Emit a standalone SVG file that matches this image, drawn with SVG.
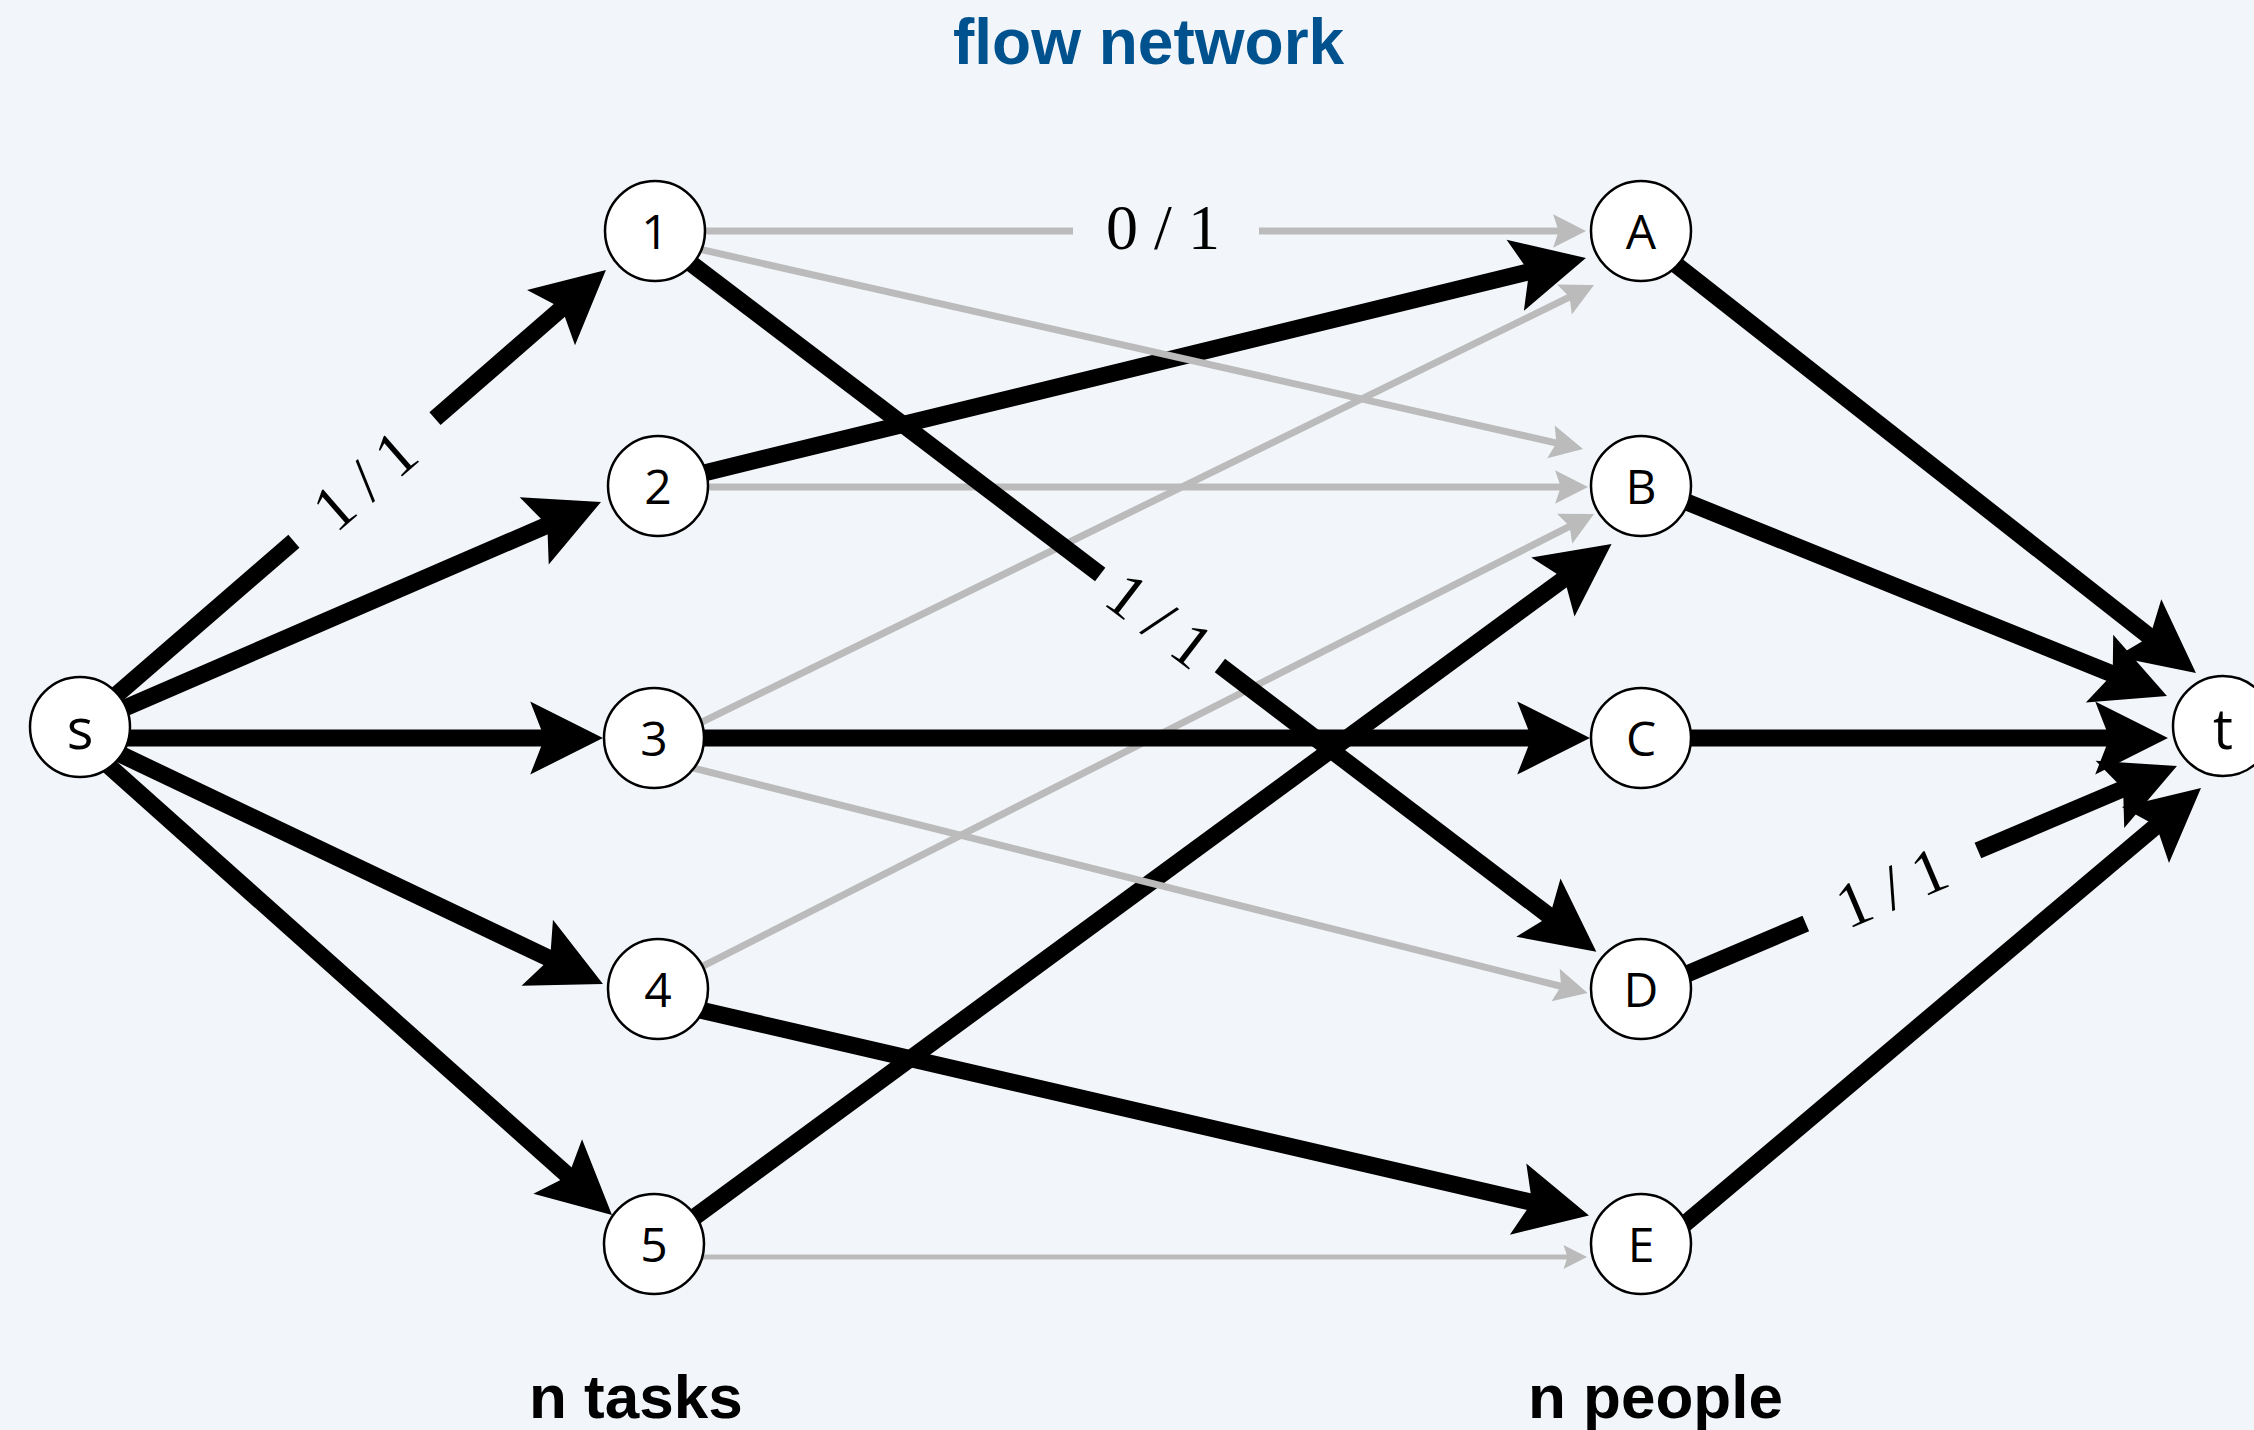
<svg xmlns="http://www.w3.org/2000/svg" width="2254" height="1430" viewBox="0 0 2254 1430">
<defs>
<marker id="ahB" markerUnits="strokeWidth" orient="auto" refX="1.3" refY="0" markerWidth="5" markerHeight="5" overflow="visible"><path d="M0,-2.15 L4.28,0 L0,2.15 L0.84,0 Z" fill="#000"/></marker>
<marker id="ahG" markerUnits="strokeWidth" orient="auto" refX="1.5" refY="0" markerWidth="5" markerHeight="5" overflow="visible"><path d="M0,-2.4 L4.7,0 L0,2.4 L0.8,0 Z" fill="#bbbbbb"/></marker>
<style>
.thick{stroke:#000;stroke-width:17;fill:none}
.thin{stroke:#bbbbbb;stroke-width:7;fill:none}
.hb{marker-end:url(#ahB)}
.hg{marker-end:url(#ahG)}
.node circle{fill:#fff;stroke:#000;stroke-width:2.5}
.lbl{font-family:"Open Sans","Liberation Sans",sans-serif;font-size:48px;text-anchor:middle;fill:#000}
.lbl2{font-family:"Open Sans","Liberation Sans",sans-serif;font-size:56px;text-anchor:middle;fill:#000}
.flow{font-family:"Liberation Serif",serif;font-size:64px;text-anchor:middle;fill:#000}
.cap{font-family:"Liberation Sans",sans-serif;font-weight:bold;font-size:62px;fill:#000}
.title{font-family:"Liberation Sans",sans-serif;font-weight:bold;font-size:64px;fill:#00528f}
</style>
</defs>
<rect width="2254" height="1430" fill="#f2f6fa"/>
<text class="title" x="953" y="64">flow network</text>
<g id="connectors">
<line class="thick hb" x1="683.7" y1="477.9" x2="1536.7" y2="270"/>
<line class="thick hb" x1="675.8" y1="1230.8" x2="1570.7" y2="574"/>
<line class="thin" x1="680" y1="231" x2="1073" y2="231"/>
<line class="thin hg" x1="1259" y1="231" x2="1563.6" y2="231"/>
<line class="thin hg" x1="686.4" y1="246.2" x2="1561.2" y2="444.1"/>
<line class="thin hg" x1="680" y1="487" x2="1565.6" y2="487"/>
<line class="thin hg" x1="689.5" y1="728.2" x2="1573.9" y2="294.9"/>
<line class="thin hg" x1="682.5" y1="765.3" x2="1565.8" y2="987.5"/>
<line class="thin hg" x1="692.6" y1="971.4" x2="1574" y2="524.1"/>
<line class="thin hg" x1="680" y1="1257" x2="1571" y2="1257" style="stroke-width:5"/>
<line class="thick" x1="99" y1="710" x2="293.9" y2="541.2"/>
<line class="thick hb" x1="435" y1="418.6" x2="567.7" y2="303.2"/>
<line class="thick hb" x1="104" y1="717" x2="554.5" y2="522.1"/>
<line class="thick hb" x1="95" y1="738" x2="552.3" y2="738"/>
<line class="thick hb" x1="103" y1="746" x2="557.2" y2="962.2"/>
<line class="thick hb" x1="91" y1="750" x2="574.2" y2="1181.2"/>
<line class="thick" x1="676" y1="252" x2="1100.2" y2="574.5"/>
<line class="thick hb" x1="1219.9" y1="665.6" x2="1556" y2="921"/>
<line class="thick hb" x1="670" y1="738" x2="1539.3" y2="738"/>
<line class="thick hb" x1="675.6" y1="1004.4" x2="1539.6" y2="1204.1"/>
<line class="thick hb" x1="1659.3" y1="251.6" x2="2156.1" y2="641.7"/>
<line class="thick hb" x1="1665.8" y1="493.6" x2="2120" y2="677"/>
<line class="thick hb" x1="1660" y1="738" x2="2117.3" y2="738"/>
<line class="thick" x1="1666" y1="982.8" x2="1805.8" y2="923.5"/>
<line class="thick hb" x1="1977.9" y1="850.5" x2="2130.3" y2="785.8"/>
<line class="thick hb" x1="1666.9" y1="1239.1" x2="2162.3" y2="820.7"/>
<text class="flow" x="1163" y="249">0 / 1</text>
<text class="flow" transform="translate(364.5,480) rotate(-40.98)" x="0" y="22">1 / 1</text>
<text class="flow" transform="translate(1160,620) rotate(37.27)" x="0" y="22">1 / 1</text>
<text class="flow" transform="translate(1891.5,887) rotate(-22.98)" x="0" y="22">1 / 1</text>
</g>
<g id="node-s" class="node"><circle cx="80" cy="727" r="50"/><text class="lbl2" x="80" y="749">s</text></g>
<g id="node-1" class="node"><circle cx="655" cy="231" r="50"/><text class="lbl" x="655" y="249">1</text></g>
<g id="node-2" class="node"><circle cx="658" cy="486" r="50"/><text class="lbl" x="658" y="504">2</text></g>
<g id="node-3" class="node"><circle cx="654" cy="738" r="50"/><text class="lbl" x="654" y="756">3</text></g>
<g id="node-4" class="node"><circle cx="658" cy="989" r="50"/><text class="lbl" x="658" y="1007">4</text></g>
<g id="node-5" class="node"><circle cx="654" cy="1244" r="50"/><text class="lbl" x="654" y="1262">5</text></g>
<g id="node-A" class="node"><circle cx="1641" cy="231" r="50"/><text class="lbl" x="1641" y="249">A</text></g>
<g id="node-B" class="node"><circle cx="1641" cy="486" r="50"/><text class="lbl" x="1641" y="504">B</text></g>
<g id="node-C" class="node"><circle cx="1641" cy="738" r="50"/><text class="lbl" x="1641" y="756">C</text></g>
<g id="node-D" class="node"><circle cx="1641" cy="989" r="50"/><text class="lbl" x="1641" y="1007">D</text></g>
<g id="node-E" class="node"><circle cx="1641" cy="1244" r="50"/><text class="lbl" x="1641" y="1262">E</text></g>
<g id="node-t" class="node"><circle cx="2223" cy="726" r="50"/><text class="lbl2" x="2223" y="749">t</text></g>
<text class="cap" x="529" y="1418">n tasks</text>
<text class="cap" x="1528" y="1418">n people</text>
</svg>
